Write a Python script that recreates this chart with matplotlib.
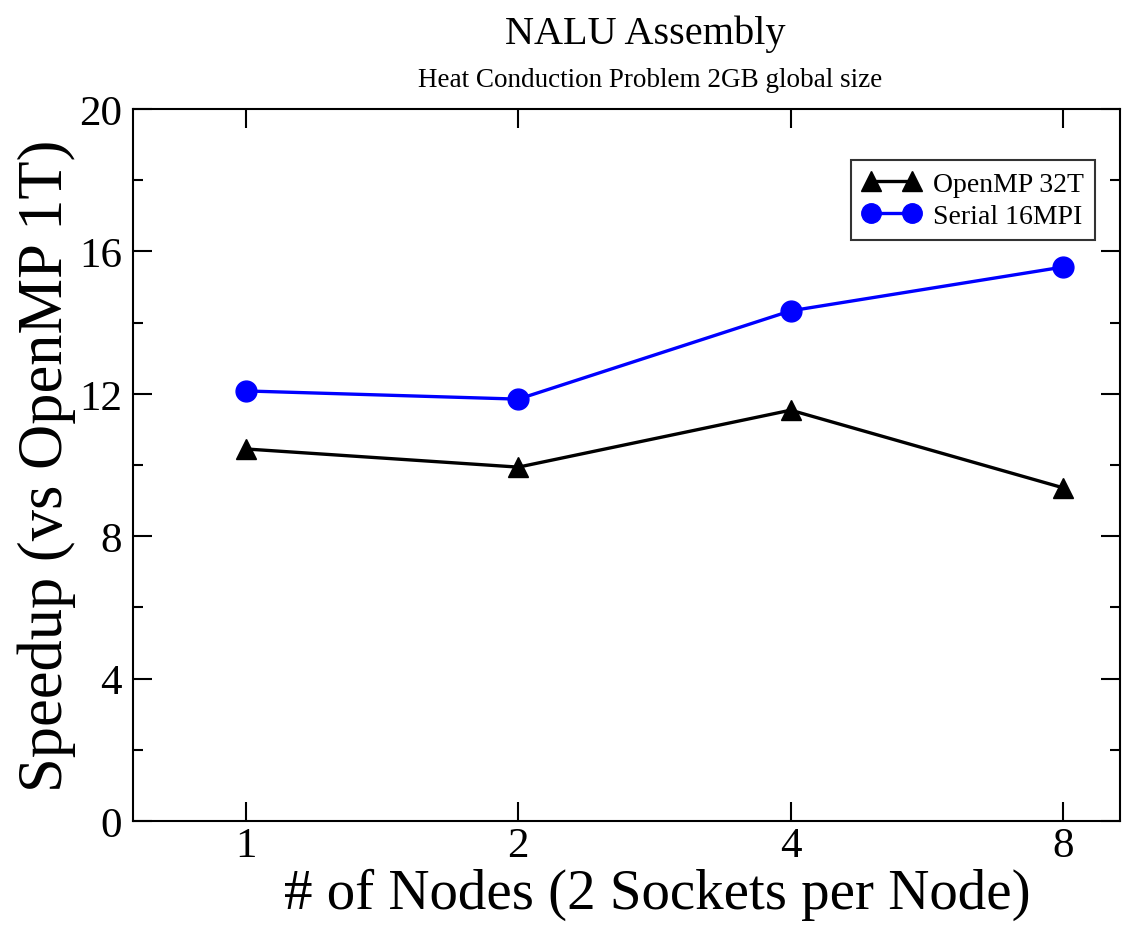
import matplotlib.pyplot as plt
from matplotlib.ticker import FixedLocator, MultipleLocator, NullLocator

plt.rcParams['font.family'] = ['Liberation Serif', 'DejaVu Serif']

nodes = [1, 2, 4, 8]
node_labels = ["1", "2", "4", "8"]
openmp_32t = [10.45, 9.94, 11.54, 9.36]
serial_16mpi = [12.08, 11.85, 14.33, 15.56]

fig = plt.figure(figsize=(11.38, 9.28), dpi=100)
ax = fig.add_axes([0.1169, 0.1142, 0.8673, 0.7673])

ax.plot(nodes, openmp_32t, color="black", lw=2.4, marker="^", ms=15,
        label="OpenMP 32T")
ax.plot(nodes, serial_16mpi, color="#0000ff", lw=2.4, marker="o", ms=15,
        label="Serial 16MPI")

ax.set_xscale("log", base=2)
ax.set_xlim(0.75, 9.25)
ax.set_ylim(0, 20)
ax.xaxis.set_major_locator(FixedLocator(nodes))
ax.xaxis.set_minor_locator(NullLocator())
ax.set_xticklabels(node_labels)
ax.yaxis.set_major_locator(MultipleLocator(4))
ax.yaxis.set_minor_locator(MultipleLocator(2))

ax.tick_params(which="both", direction="in", top=True, right=True,
               width=1.5, labelsize=31)
ax.tick_params(axis="x", pad=4)
ax.tick_params(axis="y", pad=8)
ax.tick_params(which="major", length=14)
ax.tick_params(which="minor", length=7)
for s in ax.spines.values():
    s.set_linewidth(1.5)

ax.set_xlabel("# of Nodes (2 Sockets per Node)", fontsize=41)
ax.xaxis.set_label_coords(0.531, -0.066)
ax.set_ylabel("Speedup (vs OpenMP 1T)", fontsize=45)
ax.yaxis.set_label_coords(-0.058, 0.5)

fig.text(0.567, 1 - 44 / 928, "NALU Assembly", ha="center", va="baseline",
         fontsize=29)
fig.text(0.571, 1 - 87 / 928, "Heat Conduction Problem 2GB global size",
         ha="center", va="baseline", fontsize=19.5)

leg = ax.legend(loc="upper right", bbox_to_anchor=(0.9747, 0.9284),
                fontsize=20, frameon=True, fancybox=False, borderpad=0.4,
                numpoints=2, handlelength=2.1, handletextpad=0.45,
                labelspacing=0.25, borderaxespad=0)
leg.get_frame().set_edgecolor("black")
leg.get_frame().set_linewidth(1.5)
for h in leg.legend_handles:
    h.set_markersize(14)

fig.savefig("out.png", dpi=100)
